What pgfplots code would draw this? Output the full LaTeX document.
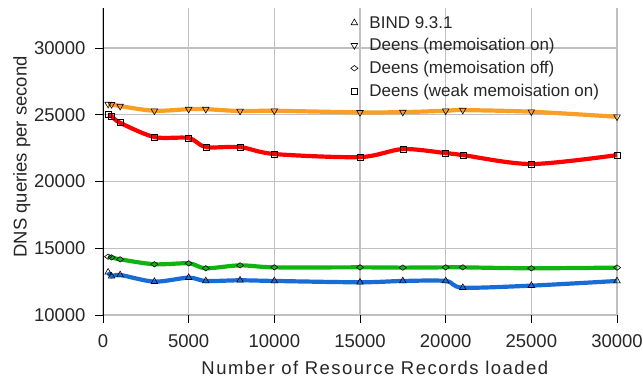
\documentclass[border=0pt]{standalone}
\usepackage{fontspec}
\setmainfont{Liberation Sans}
\newfontfamily\spacedfont{Liberation Sans}[LetterSpace=8]
\usepackage{pgfplots}
\pgfplotsset{compat=1.18}

\definecolor{cOrange}{RGB}{250,158,38}
\definecolor{cRed}{RGB}{255,0,0}
\definecolor{cGreen}{RGB}{16,180,16}
\definecolor{cBlue}{RGB}{24,108,214}
\definecolor{cGrid}{RGB}{192,192,192}

% Throughput (queries per second) against number of resource records loaded
\pgfplotstableread{
x      y
300    13200
500    12900
1000   13000
3000   12500
5000   12800
6000   12550
8000   12600
10000  12550
15000  12450
17500  12550
20000  12550
21000  12050
25000  12200
30000  12550
}\bind

\pgfplotstableread{
x      y
300    25800
500    25780
1000   25650
3000   25300
5000   25420
6000   25420
8000   25280
10000  25300
15000  25180
17500  25200
20000  25300
21000  25350
25000  25230
30000  24850
}\memoon

\pgfplotstableread{
x      y
300    14370
500    14320
1000   14170
3000   13800
5000   13870
6000   13500
8000   13720
10000  13570
15000  13570
17500  13550
20000  13570
21000  13570
25000  13500
30000  13550
}\memooff

\pgfplotstableread{
x      y
300    25000
500    24900
1000   24400
3000   23330
5000   23260
6000   22580
8000   22580
10000  22060
15000  21830
17500  22430
20000  22130
21000  21980
25000  21310
30000  21980
}\weakmemo

\pgfplotsset{
  markTri/.style={mark=triangle, mark size=3.8bp,
    mark options={solid, draw=black, fill=#1, line width=0.6bp}},
  markTriDown/.style={mark=triangle, mark size=3.8bp,
    mark options={solid, draw=black, fill=#1, line width=0.6bp, rotate=180}},
  markDia/.style={mark=diamond, mark size=3.6bp,
    mark options={solid, draw=black, fill=#1, line width=0.6bp, rotate=90}},
  markSq/.style={mark=square, mark size=3bp,
    mark options={solid, draw=black, fill=#1, line width=0.6bp}},
  markKey/.style={only marks,
    legend image code/.code={\draw[##1] plot coordinates {(0bp,0bp)};
      \path (-4bp,0bp) (11bp,0bp);}},
}

\begin{document}
\begin{tikzpicture}
\begin{axis}[
  scale only axis,
  width=514bp, height=307bp,
  xmin=0, xmax=30000, ymin=10000, ymax=33000,
  xtick={0,5000,...,30000},
  ytick={10000,15000,...,30000},
  scaled ticks=false,
  /pgf/number format/1000 sep={},
  /pgf/number format/assume math mode=true,
  tick label style={font=\fontsize{18.5bp}{20bp}\selectfont, text=black!85},
  xticklabel style={yshift=-8bp},
  yticklabel style={xshift=-6bp},
  axis x line=bottom, axis y line=left,
  axis line style={-},
  x axis line style={draw=none},
  y axis line style={black, line width=0.8bp, shorten <=-8bp},
  tick align=outside,
  major tick length=8bp,
  tick style={black, line width=0.8bp},
  grid=major,
  major grid style={cGrid, line width=1.2bp},
  xlabel={\spacedfont Number of Resource Records loaded},
  ylabel={DNS queries per second},
  label style={font=\fontsize{18.5bp}{20bp}\selectfont, text=black!85},
  xlabel style={at={(axis description cs:0.529,-0.173)}, anchor=center},
  ylabel style={at={(axis description cs:-0.158,0.515)}, anchor=center},
  legend cell align=left,
  legend style={at={(0.471,0.987)}, anchor=north west, draw=none, fill=none,
    font=\fontsize{17bp}{19bp}\selectfont, text=black!85, row sep=5bp},
  every axis plot/.append style={smooth, line width=4.2bp},
]
\addplot[cBlue, markTri=none, forget plot] table {\bind};
\addplot[cOrange, markTriDown=none, forget plot] table {\memoon};
\addplot[cGreen, markDia=white, forget plot] table {\memooff};
\addplot[cRed, markSq=none, forget plot] table {\weakmemo};
\addlegendimage{markKey, markTri=white}
\addlegendimage{markKey, markTriDown=white}
\addlegendimage{markKey, markDia=white}
\addlegendimage{markKey, markSq=white}
\legend{BIND 9.3.1, Deens (memoisation on), Deens (memoisation off), Deens (weak memoisation on)}
\end{axis}
\pgfresetboundingbox
\path[use as bounding box] (-103bp,-63bp) rectangle (540bp,315bp);
\end{tikzpicture}
\end{document}
